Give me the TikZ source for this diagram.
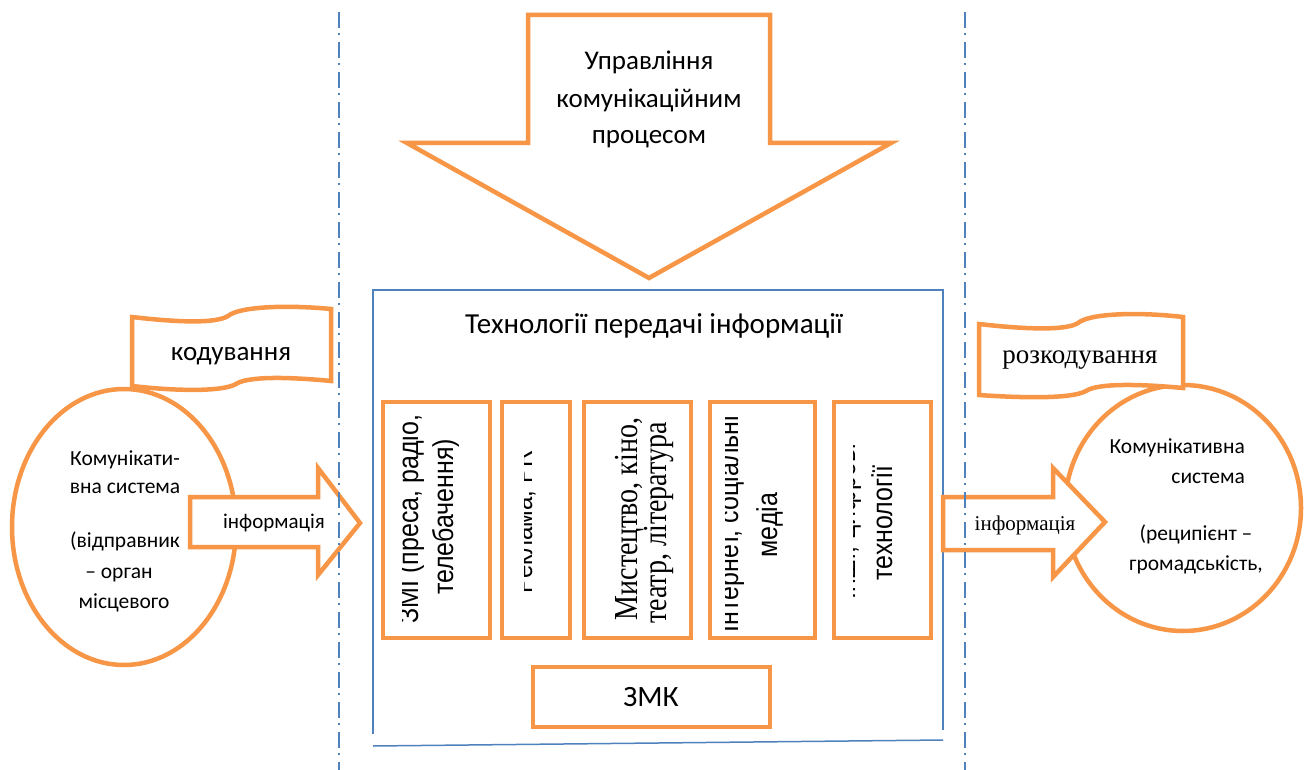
\documentclass[tikz,border=0pt]{standalone}
\usepackage{fontspec}
\setmainfont{Carlito}
\newfontfamily\arialf{Liberation Sans}
\newfontfamily\timesf{Liberation Serif}
\usetikzlibrary{shapes.geometric}
\definecolor{orng}{HTML}{F79646}
\definecolor{blu}{HTML}{4F81BD}
\newcommand{\tallA}[1]{\scalebox{1}[1.15]{#1}}
\newcommand{\tallT}[1]{\scalebox{1}[1.2]{#1}}
\tikzset{
  ol/.style={draw=orng, line width=4.5pt, fill=white, line join=miter},
  tb/.style={inner sep=0pt, anchor=base},
  rt/.style={inner sep=0pt, anchor=base, rotate=90},
  dashdot/.style={draw=blu, line width=1.6pt, dash pattern=on 16pt off 5pt on 2pt off 7pt},
  frame/.style={draw=blu, line width=1.5pt},
  fA/.style={font=\arialf\fontsize{25}{30}\selectfont},
  fT/.style={font=\timesf\fontsize{28}{32}\selectfont},
  fC/.style={font=\fontsize{21.5}{26}\selectfont},
}
\begin{document}
\begin{tikzpicture}[x=1pt,y=-1pt]
\useasboundingbox (0,0) rectangle (1306,770);

% top arrow
\draw[ol] (528,15) -- (770,15) -- (770,143) -- (891,143) -- (649,278) -- (407,143) -- (528,143) -- cycle;
\node[tb, font=\fontsize{27}{32}\selectfont] (u1) at (649,70) {Управління};
\node[tb, font=\fontsize{27}{32}\selectfont] (u2) at (649,108) {комунікаційним};
\node[tb, font=\fontsize{27}{32}\selectfont] (u3) at (649,144) {процесом};

% frame
\coordinate (fa) at (373,290);
\coordinate (fb) at (943,290);
\coordinate (fc) at (943,730);
\coordinate (fd) at (373,734);
\coordinate (fe) at (373,746);
\coordinate (ff) at (943,740);
\draw[frame] (fd) -- (fa) -- (fb) -- (fc);
\draw[frame] (fe) -- (ff);
\node[tb, font=\fontsize{29}{33}\selectfont] (title) at (654,333) {Технології передачі інформації};

% five boxes
\draw[ol] (383,402) rectangle (490,638);
\draw[ol] (502,402) rectangle (570,638);
\draw[ol] (584,402) rectangle (691,638);
\draw[ol] (710,402) rectangle (815,638);
\draw[ol] (834,402) rectangle (931,638);

\begin{scope}
\clip (402,406) rectangle (487,635);
\node[rt, fA] (b1a) at (418,519) {\tallA{ЗМІ (преса, радіо,}};
\node[rt, fA] (b1b) at (453,517) {\tallA{телебачення)}};
\end{scope}
\begin{scope}
\clip (524,406) rectangle (566,635);
\node[rt, font=\arialf\fontsize{24}{28}\selectfont] (b2a) at (532,522) {\tallA{Реклама, PR}};
\end{scope}
\node[rt, fT] (b3a) at (637,519) {\tallT{Мистецтво, кіно,}};
\node[rt, fT] (b3b) at (666,523) {\tallT{театр, література}};
\begin{scope}
\clip (725,406) rectangle (811,635);
\node[rt, fA] (b4a) at (738,524) {\tallA{Інтернет, соціальні}};
\node[rt, fA] (b4b) at (777,525) {\tallA{медіа}};
\end{scope}
\begin{scope}
\clip (853,406) rectangle (927,635);
\node[rt, fA] (b5a) at (855,522) {\tallA{Інші, цифрові}};
\node[rt, fA] (b5b) at (892,523) {\tallA{технології}};
\end{scope}

% ZMK
\draw[ol] (533,667) rectangle (770,727);
\node[tb, font=\fontsize{29.5}{33}\selectfont] (zmk) at (651,706) {ЗМК};

% left side
\node[ol, ellipse, minimum width=224pt, minimum height=276pt, inner sep=0pt] (src) at (124,527) {};
\draw[ol] (132,317) .. controls (175,322) and (215,324) .. (228,316) .. controls (240,306) and (290,305) .. (331,309) -- (331,381) .. controls (290,377) and (248,376) .. (236,384) .. controls (222,392) and (175,391) .. (132,386) -- cycle;
\node[tb, font=\fontsize{27}{32}\selectfont] (kod) at (231,360) {кодування};
\draw[ol] (190,497) -- (318,497) -- (318,468) -- (360,523) -- (318,575) -- (318,547) -- (190,547) -- cycle;
\node[tb, font=\fontsize{21}{26}\selectfont] (infl) at (274,528) {інформація};
\node[tb, fC] (s1) at (125,465) {Комунікати-};
\node[tb, fC] (s2) at (125,493) {вна система};
\node[tb, fC] (s3) at (125,547) {(відправник};
\node[tb, fC] (s4) at (119,578) {– орган};
\node[tb, fC] (s5) at (124,608) {місцевого};

% right side
\node[ol, ellipse, minimum width=236pt, minimum height=246pt, inner sep=0pt] (rcv) at (1183,508) {};
\draw[ol] (979,324) .. controls (1022,329) and (1066,331) .. (1078,323) .. controls (1090,313) and (1140,312) .. (1183,317) -- (1183,388) .. controls (1140,384) and (1098,383) .. (1086,391) .. controls (1072,399) and (1022,398) .. (979,395) -- cycle;
\node[tb, font=\timesf\fontsize{27}{32}\selectfont] (rozk) at (1080,363) {розкодування};
\draw[ol] (943,497) -- (1053,497) -- (1053,468) -- (1105,522) -- (1053,577) -- (1053,550) -- (943,550) -- cycle;
\node[tb, font=\timesf\fontsize{21}{26}\selectfont] (infr) at (1025,530) {інформація};
\node[tb, fC, anchor=base east] (r1) at (1245,453) {Комунікативна};
\node[tb, fC, anchor=base east] (r2) at (1245,483) {система};
\node[tb, fC] (r3) at (1196,540) {(реципієнт –};
\node[tb, fC] (r4) at (1196,570) {громадськість,};

% dash-dot separators
\coordinate (d1t) at (339,12);
\coordinate (d1b) at (339,770);
\coordinate (d2t) at (965,12);
\coordinate (d2b) at (965,770);
\draw[dashdot] (d1t) -- (d1b);
\draw[dashdot] (d2t) -- (d2b);
\end{tikzpicture}
\end{document}
